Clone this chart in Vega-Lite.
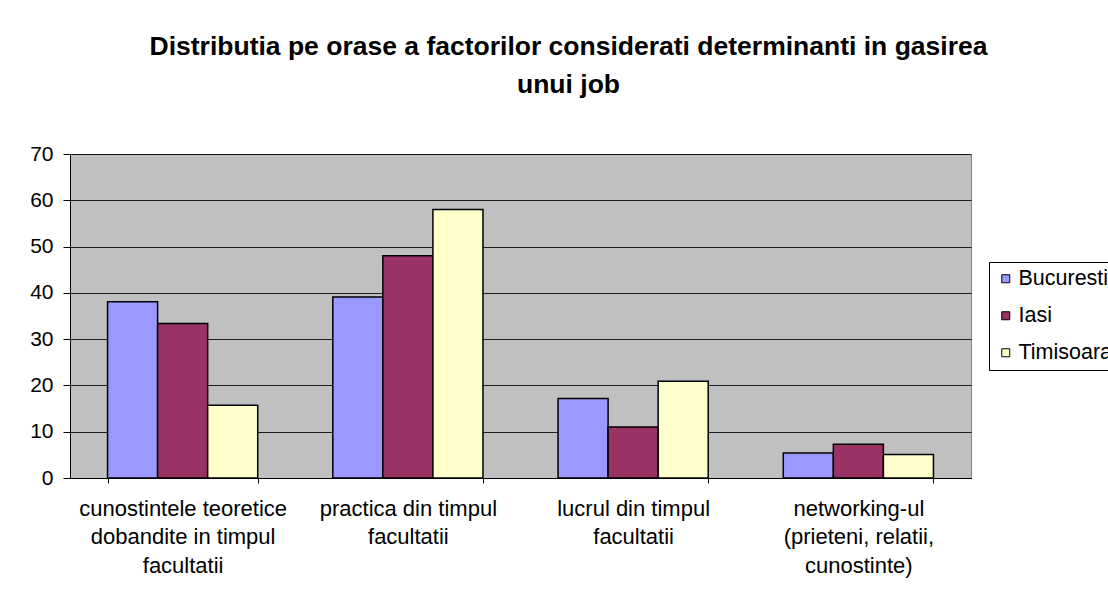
{
  "$schema": "https://vega.github.io/schema/vega-lite/v6.json",
  "autosize": {"type": "none"},
  "width": 901,
  "height": 324,
  "padding": {"left": 70, "top": 154, "right": 137, "bottom": 120},
  "background": "white",
  "title": {
    "text": ["Distributia pe orase a factorilor considerati determinanti in gasirea", "unui job"],
    "anchor": "middle",
    "frame": "group",
    "dx": 48,
    "offset": 45,
    "font": "Liberation Sans",
    "fontSize": 26.5,
    "fontWeight": "bold",
    "color": "black",
    "lineHeight": 38
  },
  "data": {
    "values": [
      {"factor": "cunostintele teoretice|dobandite in timpul|facultatii", "oras": "Bucuresti", "procent": 38.1},
      {"factor": "cunostintele teoretice|dobandite in timpul|facultatii", "oras": "Iasi", "procent": 33.4},
      {"factor": "cunostintele teoretice|dobandite in timpul|facultatii", "oras": "Timisoara", "procent": 15.7},
      {"factor": "practica din timpul|facultatii", "oras": "Bucuresti", "procent": 39.1},
      {"factor": "practica din timpul|facultatii", "oras": "Iasi", "procent": 48.0},
      {"factor": "practica din timpul|facultatii", "oras": "Timisoara", "procent": 58.0},
      {"factor": "lucrul din timpul|facultatii", "oras": "Bucuresti", "procent": 17.2},
      {"factor": "lucrul din timpul|facultatii", "oras": "Iasi", "procent": 11.0},
      {"factor": "lucrul din timpul|facultatii", "oras": "Timisoara", "procent": 20.9},
      {"factor": "networking-ul|(prieteni, relatii,|cunostinte)", "oras": "Bucuresti", "procent": 5.4},
      {"factor": "networking-ul|(prieteni, relatii,|cunostinte)", "oras": "Iasi", "procent": 7.3},
      {"factor": "networking-ul|(prieteni, relatii,|cunostinte)", "oras": "Timisoara", "procent": 5.1}
    ]
  },
  "mark": {"type": "bar", "stroke": "black", "strokeWidth": 1.5},
  "encoding": {
    "x": {
      "field": "factor",
      "type": "nominal",
      "sort": null,
      "scale": {"paddingInner": 0.3333, "paddingOuter": 0.1667},
      "axis": {
        "title": null,
        "labelAngle": 0,
        "labelExpr": "datum.value ? split(datum.value, '|') : ''",
        "labelFont": "Liberation Sans",
        "labelFontSize": 22,
        "labelLineHeight": 28.5,
        "labelColor": "black",
        "labelPadding": 15,
        "labelLimit": 300,
        "tickBand": "extent",
        "tickColor": "black",
        "tickSize": 5,
        "domainColor": "black",
        "domainWidth": 1,
        "grid": false
      }
    },
    "xOffset": {"field": "oras", "type": "nominal"},
    "y": {
      "field": "procent",
      "type": "quantitative",
      "scale": {"domain": [0, 70], "nice": false},
      "axis": {
        "title": null,
        "values": [0, 10, 20, 30, 40, 50, 60, 70],
        "labelFont": "Liberation Sans",
        "labelFontSize": 21,
        "labelColor": "black",
        "labelPadding": 10,
        "tickColor": "black",
        "tickSize": 7,
        "domainColor": "black",
        "grid": true,
        "gridColor": "black",
        "gridOpacity": 0.85,
        "gridWidth": 1
      }
    },
    "color": {
      "field": "oras",
      "type": "nominal",
      "scale": {"domain": ["Bucuresti", "Iasi", "Timisoara"], "range": ["#9999FF", "#993366", "#FFFFCC"]},
      "legend": {
        "title": null,
        "orient": "none",
        "legendX": 919,
        "legendY": 108,
        "symbolType": "square",
        "symbolSize": 64,
        "symbolStrokeColor": "black",
        "symbolStrokeWidth": 1,
        "labelFont": "Liberation Sans",
        "labelFontSize": 21.5,
        "labelColor": "black",
        "labelLimit": 300,
        "labelOffset": 2,
        "rowPadding": 14,
        "padding": 6,
        "strokeColor": "black",
        "fillColor": "white",
        "cornerRadius": 0
      }
    }
  },
  "config": {
    "view": {"fill": "#C0C0C0", "stroke": "#808080", "strokeWidth": 1}
  }
}
